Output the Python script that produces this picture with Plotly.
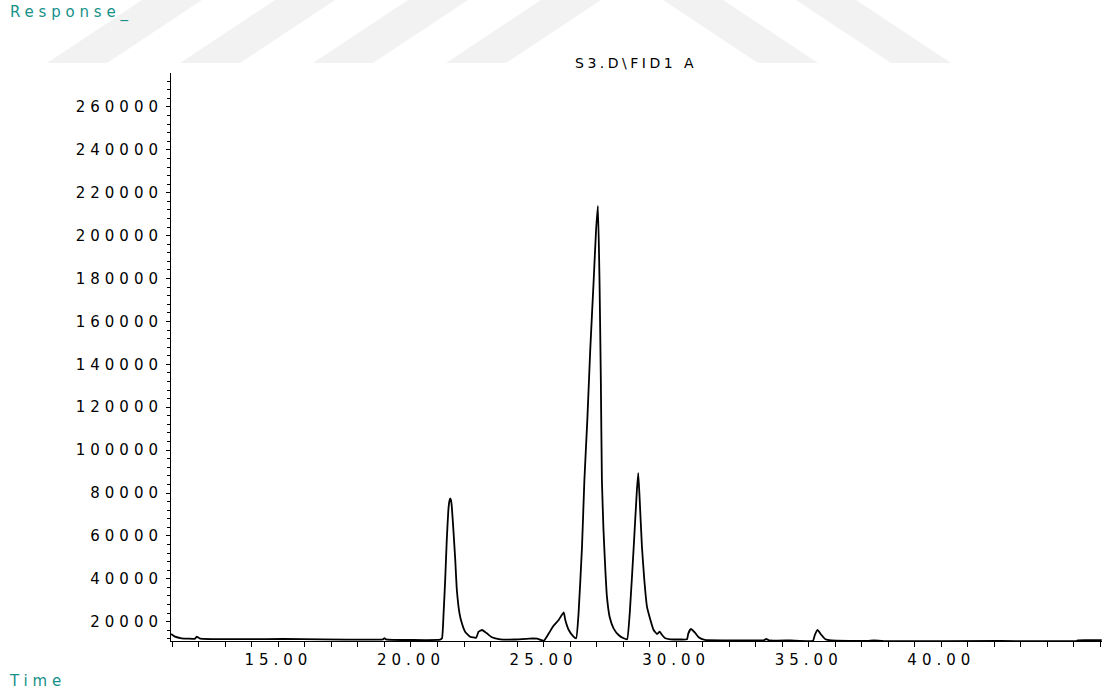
import plotly.graph_objects as go

# ---- data ----
time_min = [10.95, 11.10, 11.35, 11.86, 11.92, 12.05, 15.18, 18.95, 19.00, 19.05, 21.10, 21.17,
            21.23, 21.29, 21.35, 21.41, 21.45, 21.48, 21.51, 21.54, 21.60, 21.67, 21.73, 21.83,
            21.92, 22.04, 22.23, 22.46, 22.55, 22.68, 22.86, 23.05, 23.37, 23.93, 24.46, 24.61,
            24.76, 25.01, 25.20, 25.35, 25.57, 25.76, 25.82, 25.95, 26.13, 26.23, 26.32, 26.45,
            26.54, 26.65, 26.76, 26.89, 26.98, 27.05, 27.11, 27.16, 27.20, 27.26, 27.33, 27.39,
            27.49, 27.64, 27.83, 28.02, 28.15, 28.25, 28.40, 28.52, 28.57, 28.62, 28.71, 28.80,
            28.90, 29.03, 29.15, 29.28, 29.38, 29.47, 29.59, 29.78, 30.16, 30.41, 30.46, 30.56,
            30.71, 30.85, 31.08, 32.42, 33.30, 33.40, 33.50, 34.31, 35.16, 35.23, 35.33, 35.48,
            35.63, 35.85, 37.20, 37.46, 37.80, 42.23, 45.10, 45.15, 46.05]
response = [14270, 13010, 12265, 12080, 13010, 12080, 11940, 11800, 12300, 11800, 11610, 12260,
            23910, 39430, 58070, 72050, 76300, 77510, 76600, 73590, 62730, 48750, 34770, 23910,
            19250, 15340, 13010, 12540, 15340, 16130, 14590, 12730, 11800, 11700, 12080, 12170,
            12080, 11150, 14590, 17670, 20790, 24380, 20790, 16130, 13010, 12260, 23910, 54950,
            86040, 113990, 146620, 179240, 202540, 213870, 179240, 132640, 86040, 62730, 44090, 31650,
            22330, 16920, 13800, 12260, 11800, 23910, 54950, 81380, 89300, 78250, 54950, 39430,
            26990, 20790, 16130, 14270, 15340, 13800, 12260, 11800, 11700, 11800, 14590, 16600,
            14870, 12730, 11470, 11330, 11300, 11940, 11300, 11240, 11100, 13800, 16130, 13800,
            11800, 11240, 11050, 11330, 11050, 11000, 11000, 11350, 11350]

x_tick_vals = [15, 20, 25, 30, 35, 40]
x_tick_labels = ["15.00", "20.00", "25.00", "30.00", "35.00", "40.00"]
y_tick_vals = [20000, 40000, 60000, 80000, 100000, 120000, 140000, 160000,
               180000, 200000, 220000, 240000, 260000]
y_tick_labels = [str(v) for v in y_tick_vals]

title_text = "S3.D\\FID1 A"
y_label = "Response_"
x_label = "Time"

# ---- decoration (background watermark stripes), pixel polygons ----
W, H = 1107, 695
L, R, T, B = 171, 1102, 73, 641
stripes = [
    [(47, 63), (107, 63), (202, 0), (142, 0)],
    [(180, 63), (240, 63), (335, 0), (275, 0)],
    [(313, 63), (373, 63), (468, 0), (408, 0)],
    [(446, 63), (506, 63), (601, 0), (541, 0)],
    [(663, 0), (723, 0), (818, 63), (758, 63)],
    [(796, 0), (856, 0), (951, 63), (891, 63)],
]


def px2paper(px, py):
    return (px - L) / (R - L), (B - py) / (B - T)


def spaced(s, sp):
    return '<span style="letter-spacing:%spx">%s</span>' % (sp, s)


fig = go.Figure()
fig.add_trace(go.Scatter(x=time_min, y=response, mode="lines",
                         line=dict(color="black", width=1.8, shape="spline", smoothing=0.4),
                         hoverinfo="skip"))

shapes = []
for poly in stripes:
    pts = [px2paper(*p) for p in poly]
    path = "M " + " L ".join("%.4f,%.4f" % p for p in pts) + " Z"
    shapes.append(dict(type="path", xref="paper", yref="paper", path=path,
                       fillcolor="#f2f2f2", line=dict(width=0), layer="below"))

font_family = "DejaVu Sans, Verdana, sans-serif"
teal = "#17908a"

fig.update_layout(
    width=W, height=H,
    margin=dict(l=L, r=W - R, t=T, b=H - B),
    paper_bgcolor="white", plot_bgcolor="white",
    showlegend=False,
    shapes=shapes,
    font=dict(family=font_family, color="black"),
    xaxis=dict(range=[10.95, 46.06], showgrid=False, zeroline=False,
               showline=True, linecolor="black", linewidth=1,
               tickmode="array", tickvals=x_tick_vals,
               ticktext=[spaced(t, 5.0) for t in x_tick_labels],
               ticks="outside", ticklen=5, tickcolor="black", tickwidth=1,
               tickfont=dict(size=15, family=font_family, color="black"),
               minor=dict(tickmode="linear", tick0=0, dtick=1, ticks="outside",
                          ticklen=5, tickcolor="black", tickwidth=1)),
    yaxis=dict(range=[11000, 275840], showgrid=False, zeroline=False,
               showline=True, linecolor="black", linewidth=1,
               tickmode="array", tickvals=y_tick_vals,
               ticktext=[spaced(t, 5.0) for t in y_tick_labels],
               ticks="outside", ticklen=4, tickcolor="black", tickwidth=1,
               tickfont=dict(size=15, family=font_family, color="black"),
               minor=dict(tickmode="linear", tick0=0, dtick=4000, ticks="outside",
                          ticklen=3, tickcolor="black", tickwidth=1)),
    annotations=[
        dict(text=spaced(title_text, 3.5), xref="paper", yref="paper",
             x=px2paper(636, 63)[0], y=px2paper(636, 63)[1], showarrow=False,
             xanchor="center", yanchor="middle",
             font=dict(size=14, family=font_family, color="black")),
        dict(text=spaced(y_label, 4.8), xref="paper", yref="paper",
             x=px2paper(8, 13)[0], y=px2paper(8, 13)[1], showarrow=False,
             xanchor="left", yanchor="middle",
             font=dict(size=15, family=font_family, color=teal)),
        dict(text=spaced(x_label, 4.8), xref="paper", yref="paper",
             x=px2paper(7, 681)[0], y=px2paper(7, 681)[1], showarrow=False,
             xanchor="left", yanchor="middle",
             font=dict(size=15, family=font_family, color=teal)),
    ],
)

fig.write_html("out.html")
